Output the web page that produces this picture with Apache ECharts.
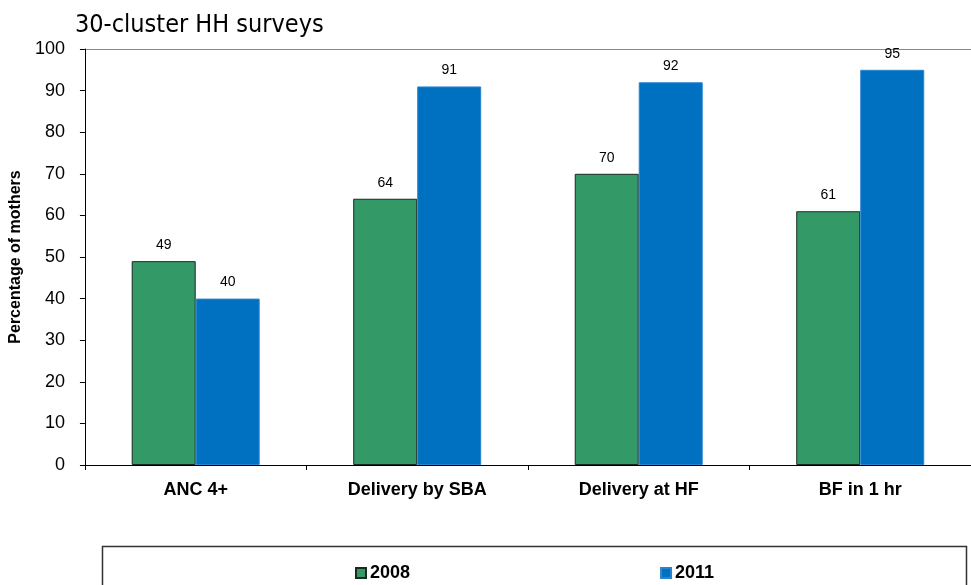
<!DOCTYPE html>
<html>
<head>
<meta charset="utf-8">
<script src="https://cdn.jsdelivr.net/npm/echarts@6/dist/echarts.min.js"></script>
<style>html,body{margin:0;padding:0;background:#fff;}#c{width:971px;height:585px;}</style>
</head>
<body>
<div id="c"></div>
<script>
const categories = ['ANC 4+', 'Delivery by SBA', 'Delivery at HF', 'BF in 1 hr'];
const values2008 = [49, 64, 70, 61];
const values2011 = [40, 91, 92, 95];
const seriesNames = ['2008', '2011'];
const titleText = '30-cluster HH surveys';
const yAxisName = 'Percentage of mothers';

const chart = echarts.init(document.getElementById('c'), null, {renderer: 'canvas'});
const splitColors = [];
for (let i = 0; i < 10; i++) splitColors.push('rgba(0,0,0,0)');
splitColors.push('#888');

chart.setOption({
  animation: false,
  backgroundColor: '#fff',
  title: {
    text: titleText, left: 70, top: 8,
    textStyle: {fontFamily: '"DejaVu Sans Condensed", "DejaVu Sans", sans-serif', fontSize: 25, fontWeight: 'normal', color: '#000'}
  },
  grid: {left: 82, right: -11, top: 49, bottom: 120, containLabel: false},
  legend: {
    data: seriesNames, left: 350, top: 559, itemWidth: 10, itemHeight: 10, itemGap: 250, icon: 'rect',
    textStyle: {fontFamily: '"Liberation Sans", Arial, sans-serif', fontSize: 18, fontWeight: 'bold', color: '#000', padding: [0,0,0,-1]}
  },
  xAxis: {
    type: 'category', data: categories,
    axisLine: {lineStyle: {color: '#000', width: 1}},
    axisTick: {show: true, length: 5, alignWithLabel: false, lineStyle: {color: '#000'}},
    axisLabel: {fontFamily: '"Liberation Sans", Arial, sans-serif', fontSize: 18, fontWeight: 'bold', color: '#000', margin: 16}
  },
  yAxis: {
    type: 'value', min: 0, max: 100, interval: 10,
    name: yAxisName, nameLocation: 'middle', nameGap: 58, nameRotate: 90,
    nameTextStyle: {fontFamily: '"Liberation Sans", Arial, sans-serif', fontSize: 16, fontWeight: 'bold', color: '#000'},
    axisLine: {show: true, lineStyle: {color: '#000', width: 1}},
    axisTick: {show: true, length: 5, lineStyle: {color: '#000'}},
    axisLabel: {fontFamily: '"Liberation Sans", Arial, sans-serif', fontSize: 18, color: '#000', margin: 20},
    splitLine: {show: true, lineStyle: {color: splitColors, width: 1}}
  },
  series: [
    {
      name: seriesNames[0], type: 'bar', data: values2008, barWidth: 64, barGap: '0%',
      itemStyle: {color: '#339966', borderColor: '#1a2a20', borderWidth: 1},
      label: {show: true, position: 'top', distance: 9, fontFamily: '"Liberation Sans", Arial, sans-serif', fontSize: 14, color: '#000'}
    },
    {
      name: seriesNames[1], type: 'bar', data: values2011, barWidth: 64, barGap: '0%',
      itemStyle: {color: '#0070C0', borderColor: '#2a85d0', borderWidth: 1},
      label: {show: true, position: 'top', distance: 9, fontFamily: '"Liberation Sans", Arial, sans-serif', fontSize: 14, color: '#000'}
    }
  ],
  graphic: [
    {type: 'rect', left: 100, top: 544, shape: {width: 864, height: 40}, style: {fill: 'none', stroke: '#333', lineWidth: 1.5}}
  ]
});
</script>
</body>
</html>
